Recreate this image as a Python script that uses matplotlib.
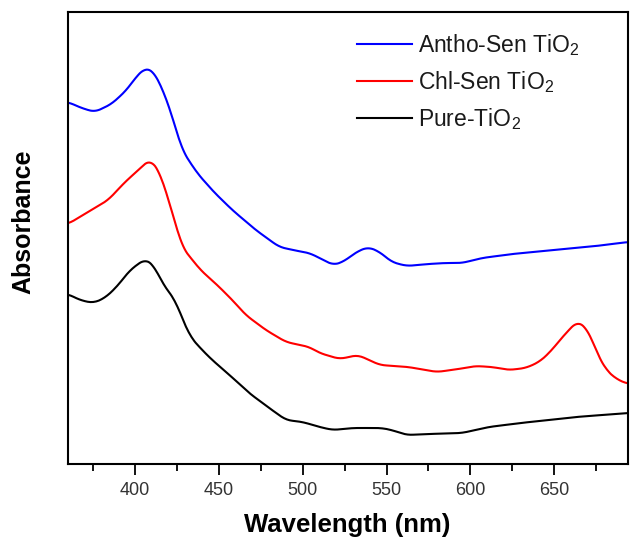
import numpy as np
from matplotlib import pyplot as plt

plt.rcParams['font.family'] = ['Liberation Sans', 'DejaVu Sans']
plt.rcParams['mathtext.default'] = 'regular'

# UV-Vis 吸收光谱 (相对吸光度, 已做垂直偏移)
wl_antho = [360, 368, 376, 386, 395, 401, 406, 410, 413, 417, 421, 428, 437, 447,
            458, 472, 486, 497, 504, 510, 518, 524, 532, 539, 546, 553, 562, 575,
            585, 595, 607, 625, 650, 675, 694]
abs_antho = [3.62, 3.56, 3.52, 3.60, 3.74, 3.88, 3.96, 3.94, 3.87, 3.72, 3.54, 3.14,
             2.91, 2.72, 2.54, 2.34, 2.17, 2.13, 2.11, 2.06, 1.99, 2.02, 2.12, 2.17,
             2.12, 2.02, 1.98, 2.00, 2.01, 2.01, 2.06, 2.10, 2.14, 2.18, 2.22]

wl_chl = [360, 372, 384, 394, 402, 409, 415, 419, 423, 428, 439, 449, 458, 466, 478,
          490, 504, 510, 522, 533, 546, 563, 580, 593, 603, 613, 623, 633, 641, 647,
          652, 657, 664, 669, 672, 676, 681, 687, 694]
abs_chl = [2.40, 2.52, 2.64, 2.82, 2.94, 3.05, 2.91, 2.69, 2.47, 2.17, 1.94, 1.79,
           1.64, 1.49, 1.34, 1.22, 1.17, 1.11, 1.05, 1.09, 0.99, 0.97, 0.92, 0.95,
           0.98, 0.97, 0.94, 0.96, 1.02, 1.11, 1.21, 1.31, 1.43, 1.36, 1.27, 1.09,
           0.94, 0.85, 0.80]

wl_pure = [360, 367, 375, 382, 389, 397, 406, 411, 417, 421, 424, 428, 433, 440, 446,
           457, 468, 480, 490, 500, 510, 518, 530, 547, 553, 562, 575, 595, 611, 630,
           663, 694]
abs_pure = [1.70, 1.64, 1.61, 1.66, 1.77, 1.94, 2.05, 1.99, 1.79, 1.70, 1.64, 1.46,
            1.27, 1.14, 1.04, 0.88, 0.71, 0.56, 0.44, 0.42, 0.37, 0.34, 0.36, 0.36,
            0.34, 0.29, 0.30, 0.31, 0.37, 0.41, 0.47, 0.51]

labels = ['Antho-Sen TiO$_2$', 'Chl-Sen TiO$_2$', 'Pure-TiO$_2$']
colors = ['#0000ff', '#ff0000', '#000000']


def smooth(x, y, n=400):
    # 读数点之间线性插值后做滑动平均, 仅用于画线
    xs = np.linspace(min(x), max(x), n)
    ys = np.interp(xs, x, y)
    k = np.ones(9) / 9
    ys = np.convolve(np.pad(ys, 4, mode='edge'), k, mode='valid')
    return xs, ys


fig = plt.figure(figsize=(6.3, 5.39), dpi=100)
ax = fig.add_axes([68 / 630, 75 / 539, 560 / 630, 452 / 539])

for x, y, c, lab in zip([wl_antho, wl_chl, wl_pure], [abs_antho, abs_chl, abs_pure], colors, labels):
    xs, ys = smooth(x, y)
    ax.plot(xs, ys, color=c, lw=1.5, label=lab)

ax.set_xlim(360, 694)
ax.set_ylim(0, 4.52)
ax.set_xticks([400, 450, 500, 550, 600, 650])
ax.set_xticks(np.arange(375, 694, 50), minor=True)
ax.set_yticks([])
ax.tick_params(axis='x', which='major', direction='out', length=8, width=1.3,
               labelsize=13, labelcolor='#333333', pad=5)
ax.tick_params(axis='x', which='minor', direction='out', length=5, width=1.3)
for s in ax.spines.values():
    s.set_linewidth(1.5)

ax.set_xlabel('Wavelength (nm)', fontsize=18.5, fontweight='bold')
ax.xaxis.set_label_coords(0.498, -0.108)
ax.set_ylabel('Absorbance', fontsize=18, fontweight='bold')
ax.yaxis.set_label_coords(-0.058, 0.535)

leg = ax.legend(loc='upper left', bbox_to_anchor=((357 - 68) / 560, (464 - 32) / 452),
                frameon=False, fontsize=16.5, handlelength=2.4, handletextpad=0.25,
                labelspacing=0.49, borderaxespad=0, borderpad=0)
for t in leg.get_texts():
    t.set_color('#1a1a1a')

plt.savefig('out.png', dpi=100)
